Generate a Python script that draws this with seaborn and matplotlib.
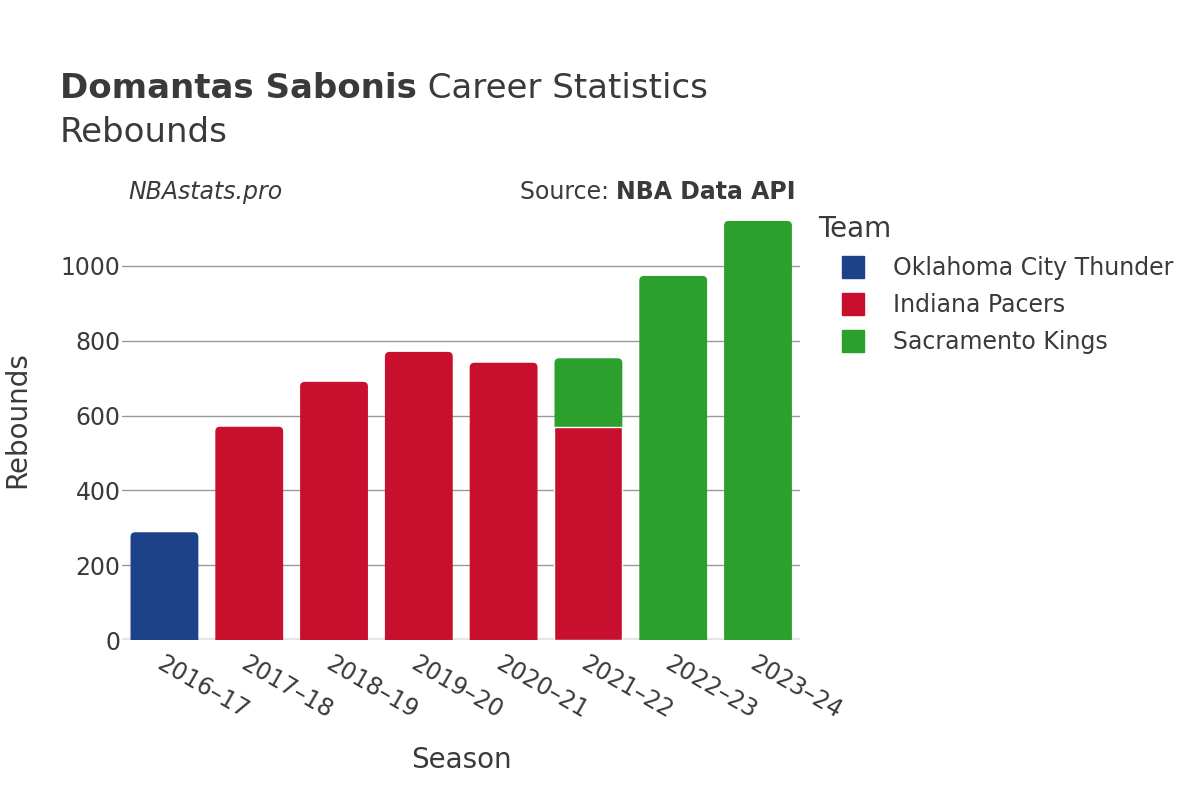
import pandas as pd
import matplotlib
matplotlib.use("Agg")
import matplotlib.pyplot as plt
from matplotlib.patches import FancyBboxPatch
from matplotlib.lines import Line2D
import seaborn as sns

# data
seasons = ["2016–17", "2017–18", "2018–19", "2019–20", "2020–21", "2021–22", "2022–23", "2023–24"]
teams = ["Oklahoma City Thunder", "Indiana Pacers", "Sacramento Kings"]
team_colors = {"Oklahoma City Thunder": "#1D428A", "Indiana Pacers": "#C8102E", "Sacramento Kings": "#2CA02C"}

okc_seasons = ["2016–17"]
okc_reb = [288]
ind_seasons = ["2017–18", "2018–19", "2019–20", "2020–21", "2021–22"]
ind_reb = [570, 690, 770, 741, 568]
sac_seasons = ["2021–22", "2022–23", "2023–24"]
sac_reb = [185, 973, 1120]

TEXT = "#3a3a3a"

rows = []
for team, ss, vals in [(teams[0], okc_seasons, okc_reb),
                       (teams[1], ind_seasons, ind_reb),
                       (teams[2], sac_seasons, sac_reb)]:
    for s, v in zip(ss, vals):
        rows.append({"season": s, "team": team, "reb": v})
df = pd.DataFrame(rows)
df["top"] = df.groupby("season")["reb"].cumsum()

sns.set_style("white")
plt.rcParams["font.family"] = ["DejaVu Sans"]

fig = plt.figure(figsize=(12, 8), dpi=100)
ax = fig.add_axes([0.1017, 0.2, 0.5653, 0.55])

# draw the later (stacked-on-top) teams first so lower segments sit over them
for team in teams[::-1]:
    sub = df[df["team"] == team]
    sns.barplot(data=sub, x="season", y="top", order=seasons, color=team_colors[team],
                width=0.8, ax=ax, saturation=1, zorder=3)

ax.set_xlim(-0.5, 7.5)
ax.set_ylim(0, 1176)

# round the top corners of the bars that end a stack
fig.canvas.draw()
stack_top = df.groupby("season")["top"].max()
px_per_x = ax.bbox.width / 8.0
px_per_y = ax.bbox.height / 1176.0
r = 0.055
aspect = px_per_x / px_per_y
for p in list(ax.patches):
    h = p.get_height()
    if h <= 0 or pd.isna(h):
        continue
    x0 = p.get_x()
    w = p.get_width()
    season = seasons[int(round(x0 + w / 2))]
    if abs(stack_top[season] - h) > 0.5:
        # lower segment of a stack: square top, thin white seam
        p.set_edgecolor("white")
        p.set_linewidth(1.0)
        p.set_zorder(4)
        continue
    fc = p.get_facecolor()
    extra = r * aspect
    fb = FancyBboxPatch((x0, -extra), w, h + extra,
                        boxstyle=f"round,pad=0,rounding_size={r}",
                        mutation_aspect=aspect, facecolor=fc, edgecolor="none",
                        zorder=3)
    p.remove()
    ax.add_patch(fb)

ax.set_yticks([0, 200, 400, 600, 800, 1000])
ax.yaxis.grid(True, color="#999999", linewidth=1)
ax.set_axisbelow(True)
ax.axhline(0, color="#e6e6e6", linewidth=3, zorder=2)
for s in ax.spines.values():
    s.set_visible(False)
ax.tick_params(axis="both", length=0, labelsize=17, labelcolor=TEXT)
ax.tick_params(axis="y", pad=1)
ax.set_xticks(range(len(seasons)))
ax.set_xticklabels(seasons, rotation=-30, ha="left", va="top", rotation_mode="anchor")
ax.tick_params(axis="x", pad=8)

xl = ax.set_xlabel("Season", fontsize=20, color=TEXT)
xl.set_verticalalignment("center")
ax.xaxis.set_label_coords(0.5, -0.273)
yl = ax.set_ylabel("Rebounds", fontsize=20, color=TEXT)
yl.set_verticalalignment("center")
ax.yaxis.set_label_coords(-0.155, 0.5)

# title: bold name followed by regular text
t1 = fig.text(0.05, 0.89, "Domantas Sabonis", fontsize=24.5, fontweight="bold", color=TEXT, va="center")
fig.canvas.draw()
bb = t1.get_window_extent()
fig.text(bb.x1 / fig.bbox.width, 0.89, " Career Statistics", fontsize=24.5, color=TEXT, va="center")
fig.text(0.05, 0.835, "Rebounds", fontsize=24.5, color=TEXT, va="center")

fig.text(0.107, 0.76, "NBAstats.pro", fontsize=17, style="italic", color=TEXT, va="center")
t3 = fig.text(0.663, 0.76, "NBA Data API", fontsize=17, fontweight="bold", color=TEXT, va="center", ha="right")
fig.canvas.draw()
bb3 = t3.get_window_extent()
fig.text(bb3.x0 / fig.bbox.width, 0.76, "Source: ", fontsize=17, color=TEXT, va="center", ha="right")

handles = [Line2D([0], [0], marker="s", linestyle="none", markersize=16,
                  markerfacecolor=team_colors[t], markeredgecolor=team_colors[t]) for t in teams]
leg = fig.legend(handles, teams, title="Team", loc="upper left", bbox_to_anchor=(0.674, 0.7425),
                 frameon=False, fontsize=17, title_fontsize=20, labelspacing=0.55,
                 handletextpad=0.2, handlelength=2.95, borderaxespad=0)
leg._legend_box.align = "left"
for txt in leg.get_texts():
    txt.set_color(TEXT)
leg.get_title().set_color(TEXT)

fig.savefig("out.png", dpi=100, facecolor="white")
